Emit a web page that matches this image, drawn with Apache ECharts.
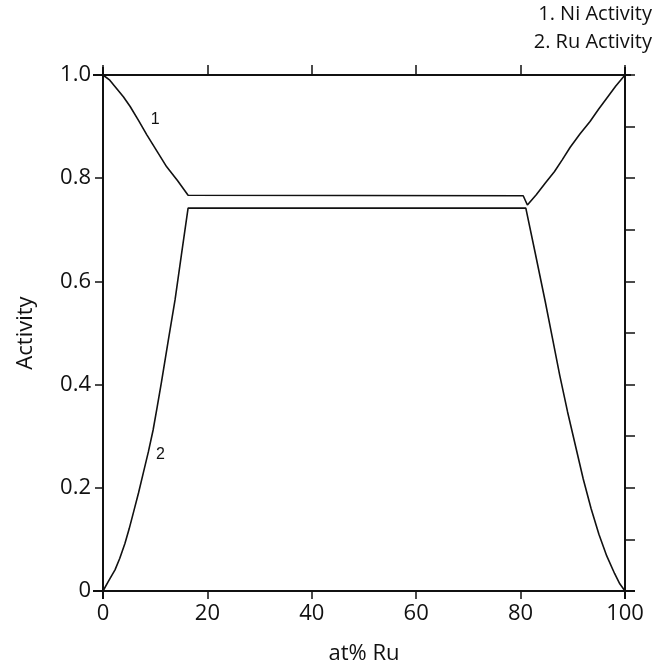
<!DOCTYPE html>
<html>
<head>
<meta charset="utf-8">
<script src="https://cdn.jsdelivr.net/npm/echarts@6/dist/echarts.min.js"></script>
<style>
  html, body { margin: 0; padding: 0; background: #fff; }
  #chart { width: 654px; height: 671px; }
</style>
</head>
<body>
<div id="chart"></div>
<script>
// at% Ru vs activity
var niActivity = [
  [0, 1.0], [1.3, 0.99], [2.6, 0.974], [3.9, 0.958], [5.2, 0.939], [6.8, 0.912],
  [8.4, 0.884], [10.3, 0.853], [12.2, 0.822], [14.3, 0.795], [16.3, 0.767],
  [80.5, 0.766], [81.3, 0.748], [83, 0.768], [84.7, 0.79], [86.5, 0.813],
  [88, 0.836], [89.5, 0.86], [91.4, 0.886], [93.3, 0.91], [94.9, 0.933],
  [96.5, 0.955], [98.2, 0.978], [100, 1.0]
];
var ruActivity = [
  [0, 0], [1, 0.018], [2.3, 0.041], [3.2, 0.063], [4.2, 0.092], [5, 0.12],
  [5.8, 0.151], [6.8, 0.19], [7.7, 0.228], [8.7, 0.27], [9.6, 0.312],
  [10.4, 0.358], [11.2, 0.405], [12.5, 0.485], [13.8, 0.564], [15, 0.65], [16.3, 0.742],
  [81.0, 0.742], [82.8, 0.655], [84.7, 0.562], [86.1, 0.49], [87.5, 0.418],
  [89, 0.347], [90.5, 0.282], [92, 0.217], [93.5, 0.16], [95, 0.11],
  [96.5, 0.068], [98, 0.034], [99, 0.014], [100, 0]
];
var curveTags = [['1', 10, 0.913], ['2', 11, 0.264]];

var chart = echarts.init(document.getElementById('chart'));

var font = '"Open Sans", "Liberation Sans", sans-serif';
var black = '#111';

function tag(t) {
  return {
    coord: [t[1], t[2]],
    symbol: 'circle',
    symbolSize: 1,
    itemStyle: { color: 'rgba(0,0,0,0)' },
    label: {
      show: true, position: 'inside', formatter: t[0],
      color: black, fontSize: 16, fontFamily: 'Liberation Sans'
    }
  };
}

var option = {
  animation: false,
  backgroundColor: '#fff',
  grid: { left: 103, right: 29, top: 75, bottom: 80 },
  graphic: [
    {
      type: 'text', right: 2, top: 4,
      style: { text: '1. Ni Activity', fontSize: 20, fontFamily: font, fill: black, textAlign: 'right' }
    },
    {
      type: 'text', right: 2, top: 32,
      style: { text: '2. Ru Activity', fontSize: 20, fontFamily: font, fill: black, textAlign: 'right' }
    }
  ],
  xAxis: [
    {
      type: 'value', min: 0, max: 100, interval: 20, position: 'bottom',
      name: 'at% Ru', nameLocation: 'middle', nameGap: 52,
      nameTextStyle: { fontSize: 22, fontFamily: font, color: black },
      axisLine: { onZero: false, lineStyle: { color: black, width: 2 } },
      axisTick: { show: true, length: 8, lineStyle: { color: black, width: 1.5 } },
      axisLabel: { fontSize: 22, fontFamily: font, color: black, margin: 12 },
      splitLine: { show: false }
    },
    {
      type: 'value', min: 0, max: 100, interval: 20, position: 'top',
      axisLine: { onZero: false, lineStyle: { color: black, width: 2 } },
      axisTick: { show: true, length: 10, lineStyle: { color: black, width: 1.5 } },
      axisLabel: { show: false },
      splitLine: { show: false }
    }
  ],
  yAxis: [
    {
      type: 'value', min: 0, max: 1, interval: 0.2, position: 'left',
      name: 'Activity', nameLocation: 'middle', nameGap: 66, nameRotate: 90,
      nameTextStyle: { fontSize: 22, fontFamily: font, color: black },
      axisLine: { show: true, onZero: false, lineStyle: { color: black, width: 2 } },
      axisTick: { show: true, length: 8, lineStyle: { color: black, width: 1.5 } },
      axisLabel: {
        fontSize: 22, fontFamily: font, color: black, margin: 12,
        formatter: function (v) { return v === 0 ? '0' : v.toFixed(1); }
      },
      splitLine: { show: false }
    },
    {
      type: 'value', min: 0, max: 1, interval: 0.1, position: 'right',
      axisLine: { show: true, onZero: false, lineStyle: { color: black, width: 2 } },
      axisTick: { show: true, length: 10, lineStyle: { color: black, width: 1.5 } },
      axisLabel: { show: false },
      splitLine: { show: false }
    }
  ],
  series: [
    {
      name: 'Ni Activity', type: 'line', data: niActivity,
      xAxisIndex: 0, yAxisIndex: 0,
      showSymbol: false,
      lineStyle: { color: black, width: 1.6 },
      markPoint: { data: [tag(curveTags[0])] }
    },
    {
      name: 'Ru Activity', type: 'line', data: ruActivity,
      xAxisIndex: 0, yAxisIndex: 0,
      showSymbol: false,
      lineStyle: { color: black, width: 1.6 },
      markPoint: { data: [tag(curveTags[1])] }
    }
  ]
};

chart.setOption(option);

// the frame lines run a little past the corners in the original
var p0 = chart.convertToPixel({ gridIndex: 0 }, [0, 0]);
var p1 = chart.convertToPixel({ gridIndex: 0 }, [100, 1]);
function seg(x1, y1, x2, y2) {
  return {
    type: 'line', silent: true,
    shape: { x1: x1, y1: y1, x2: x2, y2: y2 },
    style: { stroke: black, lineWidth: 2 }
  };
}
var ext = 10;
option.graphic = option.graphic.concat([
  seg(p0[0] - ext, p0[1], p0[0], p0[1]),
  seg(p1[0], p0[1], p1[0] + ext, p0[1]),
  seg(p0[0] - ext, p1[1], p0[0], p1[1]),
  seg(p1[0], p1[1], p1[0] + 6, p1[1]),
  seg(p0[0], p1[1] - 8, p0[0], p1[1]),
  seg(p0[0], p0[1], p0[0], p0[1] + 8),
  seg(p1[0], p1[1] - 8, p1[0], p1[1]),
  seg(p1[0], p0[1], p1[0], p0[1] + 8)
]);
chart.setOption({ graphic: option.graphic });
</script>
</body>
</html>
